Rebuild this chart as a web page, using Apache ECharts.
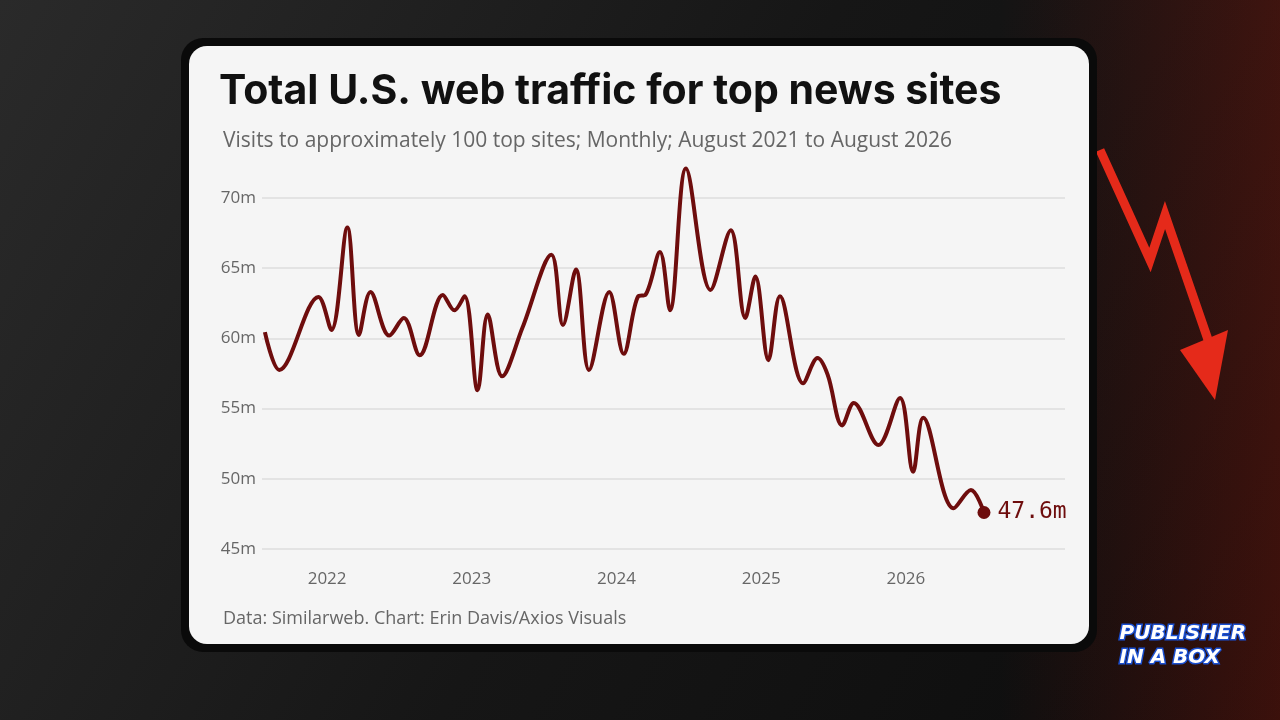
<!DOCTYPE html>
<html>
<head>
<meta charset="utf-8">
<title>Total U.S. web traffic for top news sites</title>
<script src="https://cdn.jsdelivr.net/npm/echarts@6/dist/echarts.min.js"></script>
<style>html,body{margin:0;padding:0;background:#111}</style>
</head>
<body>
<div id="main" style="width:1280px;height:720px"></div>
<script>
// decimal years (x) and monthly visits in millions (y)
var years = [2021.57, 2021.67, 2021.94, 2022.03, 2022.14, 2022.22, 2022.30, 2022.43, 2022.53, 2022.64,
    2022.80, 2022.88, 2022.95, 2023.04, 2023.11, 2023.21, 2023.35, 2023.55, 2023.63, 2023.72,
    2023.81, 2023.95, 2024.05, 2024.15, 2024.20, 2024.30, 2024.37, 2024.48, 2024.65, 2024.79,
    2024.89, 2024.96, 2025.05, 2025.13, 2025.29, 2025.39, 2025.46, 2025.56, 2025.64, 2025.81,
    2025.96, 2026.05, 2026.12, 2026.33, 2026.45, 2026.54];
var visits = [60.45, 57.75, 62.95, 60.6, 67.9, 60.25, 63.3, 60.2, 61.45, 58.8,
    63.1, 62.0, 63.0, 56.3, 61.7, 57.3, 60.75, 65.95, 60.95, 64.9,
    57.75, 63.3, 58.9, 63.0, 63.1, 66.15, 62.0, 72.1, 63.45, 67.7,
    61.45, 64.4, 58.45, 63.0, 56.8, 58.6, 57.4, 53.8, 55.4, 52.4,
    55.75, 50.5, 54.35, 47.9, 49.2, 47.6];
var yearTicks = [2022, 2023, 2024, 2025, 2026];

var lineData = years.map(function(x, i) {
    var p = { value: [x, visits[i]] };
    if (i === years.length - 1) {
        p.symbol = 'circle';
        p.symbolSize = 13;
        p.label = {
            show: true, position: 'right', distance: 7,
            formatter: function(d) { return d.value[1].toFixed(1) + 'm'; },
            color: '#6e0d0d', fontSize: 23, fontFamily: 'DejaVu Sans Mono'
        };
    }
    return p;
});

var chart = echarts.init(document.getElementById('main'));
chart.setOption({
    animation: false,
    backgroundColor: '#141414',
    graphic: [
        { type: 'rect', z: -10, shape: { x: 0, y: 0, width: 1280, height: 720 },
          style: { fill: new echarts.graphic.LinearGradient(0, 0, 1, 1, [
              { offset: 0, color: '#2a2a2a' }, { offset: 0.5, color: '#161616' }, { offset: 1, color: '#0c0c0c' }]) } },
        { type: 'rect', z: -9, shape: { x: 1000, y: 0, width: 280, height: 720 },
          style: { fill: new echarts.graphic.LinearGradient(0, 0, 1, 0, [
              { offset: 0, color: 'rgba(180,20,10,0)' }, { offset: 1, color: 'rgba(200,30,10,0.25)' }]) } },
        { type: 'polyline', z: -8, shape: { points: [[1100, 150], [1150, 260], [1165, 215], [1215, 360]] },
          style: { stroke: '#e52a1a', lineWidth: 9, fill: null } },
        { type: 'polygon', z: -8, shape: { points: [[1180, 350], [1228, 330], [1215, 400]] },
          style: { fill: '#e52a1a' } },
        { type: 'rect', z: -7, shape: { x: 181, y: 38, width: 916, height: 614, r: 22 },
          style: { fill: '#0a0a0a' } },
        { type: 'rect', z: -6, shape: { x: 189, y: 46, width: 900, height: 598, r: 18 },
          style: { fill: '#f5f5f5' } },
        { type: 'text', left: 1118, top: 622, z: 5,
          style: { text: 'PUBLISHER\nIN A BOX', fill: '#fff', font: 'italic bold 20px "DejaVu Sans"',
                   lineHeight: 24, stroke: '#1a4fd0', lineWidth: 3 } }
    ],
    title: [
        { text: 'Total U.S. web traffic for top news sites', left: 214, top: 66,
          textStyle: { fontSize: 41, fontWeight: 'bold', color: '#111', fontFamily: 'Inter' } },
        { text: 'Visits to approximately 100 top sites; Monthly; August 2021 to August 2026', left: 218, top: 126,
          textStyle: { fontSize: 21, fontWeight: 'normal', color: '#666', fontFamily: 'Open Sans' } },
        { text: 'Data: Similarweb. Chart: Erin Davis/Axios Visuals', left: 218, top: 605,
          textStyle: { fontSize: 18, fontWeight: 'normal', color: '#666', fontFamily: 'Open Sans' } }
    ],
    grid: { left: 262, right: 215, top: 198, bottom: 171 },
    xAxis: {
        type: 'value', min: 2021.55, max: 2027.1,
        axisLine: { show: false }, axisTick: { show: false }, splitLine: { show: false },
        axisLabel: {
            margin: 22, color: '#666', fontSize: 17, fontFamily: 'Open Sans',
            customValues: yearTicks, formatter: function(v) { return String(v); }
        }
    },
    yAxis: {
        type: 'value', min: 45, max: 70, interval: 5,
        axisLine: { show: false }, axisTick: { show: false },
        splitLine: { lineStyle: { color: '#dcdcdc', width: 1.5 } },
        axisLabel: { margin: 6, color: '#666', fontSize: 17, fontFamily: 'Open Sans',
                     formatter: function(v) { return v + 'm'; } }
    },
    series: [{
        type: 'line', data: lineData, smooth: 0.35, clip: false,
        showSymbol: true, symbol: 'none',
        lineStyle: { color: '#6e0d0d', width: 4 },
        itemStyle: { color: '#6e0d0d' }
    }]
});
</script>
</body>
</html>
